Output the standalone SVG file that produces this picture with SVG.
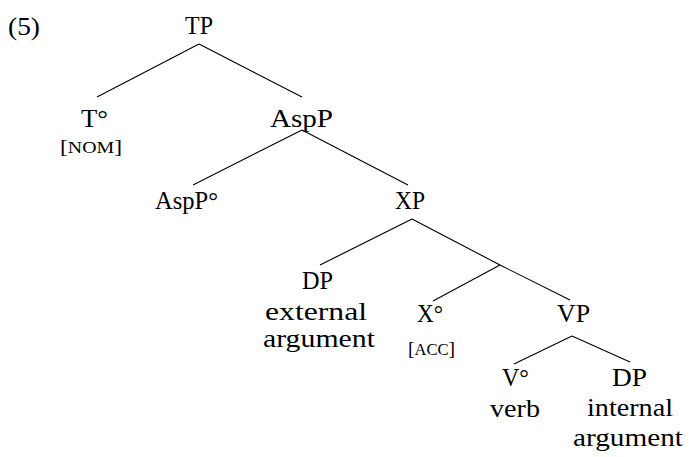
<svg xmlns="http://www.w3.org/2000/svg" width="690" height="457" viewBox="0 0 690 457">
<style>
.n{font-family:"Liberation Serif","DejaVu Serif",serif;font-size:25px;fill:#000}
.s{font-family:"Liberation Serif","DejaVu Serif",serif;font-size:19px;fill:#000}
.sc{font-size:16px}
.e{stroke:#000;stroke-width:1.1;fill:none}
</style>
<rect width="690" height="457" fill="#fff"/>
<text class="n" x="8" y="35" textLength="32" lengthAdjust="spacingAndGlyphs">(5)</text>
<g id="connectors">
<line class="e" x1="199" y1="44" x2="97" y2="97"/>
<line class="e" x1="199" y1="44" x2="302" y2="97"/>
<line class="e" x1="302" y1="130" x2="193" y2="185"/>
<line class="e" x1="302" y1="130" x2="408" y2="185"/>
<line class="e" x1="412" y1="219" x2="320" y2="265"/>
<line class="e" x1="412" y1="219" x2="500" y2="265"/>
<line class="e" x1="500" y1="265" x2="570" y2="300"/>
<line class="e" x1="500" y1="265" x2="433" y2="301"/>
<line class="e" x1="572" y1="336" x2="514" y2="364"/>
<line class="e" x1="572" y1="336" x2="630" y2="362"/>
</g>
<g id="TP"><text class="n" x="185" y="34" textLength="28" lengthAdjust="spacingAndGlyphs">TP</text></g>
<g id="T"><text class="n" x="81" y="127" textLength="27" lengthAdjust="spacingAndGlyphs">T°</text>
<text class="s" x="60" y="153" textLength="62" lengthAdjust="spacingAndGlyphs">[<tspan class="sc">NOM</tspan>]</text></g>
<g id="AspP"><text class="n" x="270" y="127" textLength="63" lengthAdjust="spacingAndGlyphs">AspP</text></g>
<g id="AspP0"><text class="n" x="155" y="209" textLength="63" lengthAdjust="spacingAndGlyphs">AspP°</text></g>
<g id="XP"><text class="n" x="395" y="209" textLength="30" lengthAdjust="spacingAndGlyphs">XP</text></g>
<g id="DPext"><text class="n" x="302" y="289" textLength="31" lengthAdjust="spacingAndGlyphs">DP</text>
<text class="n" x="265" y="320" textLength="102" lengthAdjust="spacingAndGlyphs">external</text>
<text class="n" x="263" y="347" textLength="112" lengthAdjust="spacingAndGlyphs">argument</text></g>
<g id="X0"><text class="n" x="417" y="322" textLength="26" lengthAdjust="spacingAndGlyphs">X°</text>
<text class="s" x="408" y="355" textLength="47" lengthAdjust="spacingAndGlyphs">[<tspan class="sc">ACC</tspan>]</text></g>
<g id="VP"><text class="n" x="557" y="322" textLength="33" lengthAdjust="spacingAndGlyphs">VP</text></g>
<g id="V0"><text class="n" x="502" y="386" textLength="27" lengthAdjust="spacingAndGlyphs">V°</text>
<text class="n" x="490" y="417" textLength="50" lengthAdjust="spacingAndGlyphs">verb</text></g>
<g id="DPint"><text class="n" x="612" y="386" textLength="35" lengthAdjust="spacingAndGlyphs">DP</text>
<text class="n" x="587" y="416" textLength="86" lengthAdjust="spacingAndGlyphs">internal</text>
<text class="n" x="573" y="446" textLength="110" lengthAdjust="spacingAndGlyphs">argument</text></g>
</svg>
